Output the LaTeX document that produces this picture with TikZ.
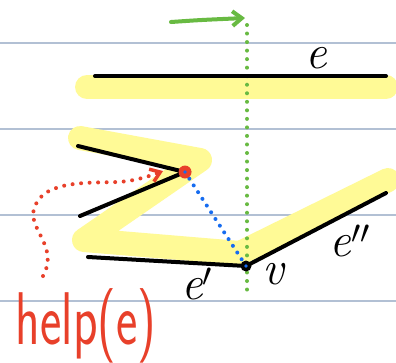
\documentclass[tikz,border=0pt]{standalone}
\usetikzlibrary{arrows.meta}
\definecolor{rulecol}{RGB}{178,192,212}
\definecolor{hlyellow}{RGB}{255,250,150}
\definecolor{pengreen}{RGB}{104,186,66}
\definecolor{penred}{RGB}{232,64,42}
\definecolor{penblue}{RGB}{22,108,240}
\begin{document}
\begin{tikzpicture}[x=0.75pt,y=-0.75pt,
  rule/.style={draw=rulecol, line width=1.1pt},
  hl/.style={draw=hlyellow, line width=18pt, line cap=round, line join=round},
  seg/.style={draw=black, line width=3pt, line cap=round},
  dots/.style={line width=3pt, line cap=round, dash pattern=on 0pt off 6.4pt},
  lab/.style={inner sep=0pt, font=\itshape\fontsize{36}{36}\selectfont}]
\useasboundingbox (0,0) rectangle (396,362);
\fill[white] (0,0) rectangle (396,362);
% ruled paper
\foreach \yy in {43,129,215,301} \draw[rule] (0,\yy) -- (396,\yy);
% points
\coordinate (eL) at (95,76);
\coordinate (eR) at (386,76);
\coordinate (a1) at (78,146);
\coordinate (p) at (185,172);
\coordinate (a2) at (80,216);
\coordinate (b1) at (88,257);
\coordinate (v) at (246,266);
\coordinate (c2) at (386,193);
% highlights
\draw[hl] (87,87) -- (386,87);
\draw[hl] (80,138) -- (200,160) -- (84,240) -- (240,253) -- (388,180);
% green sweep line
\coordinate (gt) at (247,25);
\coordinate (gb) at (247,293);
\draw[pengreen, dots] (gt) -- (gb);
\coordinate (ga) at (171,22);
\coordinate (gz) at (245,18);
\draw[pengreen, line width=3pt, line cap=round, -{Straight Barb[length=7pt,width=11pt]}] (ga) .. controls (200,20) .. (gz);
% segments
\draw[seg] (eL) -- (eR);
\draw[seg] (a1) -- (p) -- (a2);
\draw[seg] (b1) -- (v) -- (c2);
% blue dotted
\draw[penblue, dots, dash pattern=on 0pt off 6pt] (p) -- (v);
% red point
\fill[penred] (p) circle (6.5);
\fill[penblue] (p) circle (1.8);
% vertex v
\fill[black] (v) circle (5.5);
\fill[penblue] (v) circle (1.8);
% red dotted arrow
\coordinate (rs) at (43,276);
\coordinate (rt) at (163,171);
\draw[penred, dots, -{Straight Barb[length=7pt,width=10pt,line width=2.6pt]}] (rs) .. controls (60,245) and (25,228) .. (35,206) .. controls (45,180) and (90,183) .. (118,182) .. controls (135,181) and (150,176) .. (rt);
% labels
\node[lab] (le) at (316,58) {e};
\node[lab] (le1) at (197,284) {e$'$};
\node[lab] (lv) at (273,274) {v};
\node[lab] (le2) at (350,241) {e$''$};
\node[inner sep=0pt, text=penred, xscale=0.68, font=\sffamily\fontsize{56}{56}\selectfont] (help) at (86,326) {help(e)};
\end{tikzpicture}
\end{document}
